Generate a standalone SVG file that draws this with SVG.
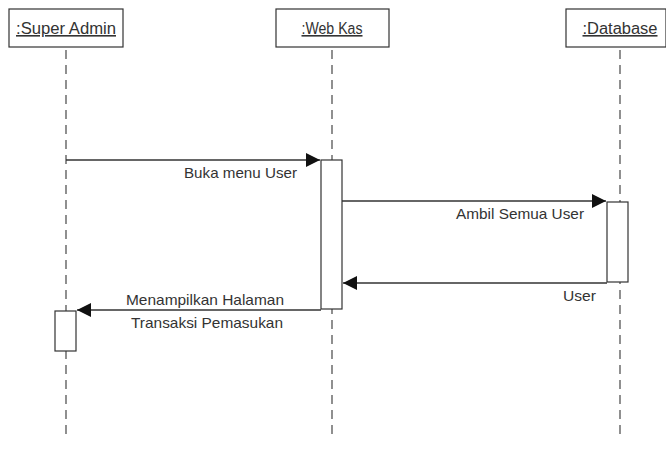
<svg xmlns="http://www.w3.org/2000/svg" width="666" height="462" viewBox="0 0 666 462">
  <style>
    .head { fill: #ffffff; stroke: #333333; stroke-width: 1.2; }
    .head-text { font-family: "Liberation Sans", Arial, sans-serif; font-size: 16px; fill: #333333; text-anchor: middle; text-decoration: underline; }
    .life { stroke: #555555; stroke-width: 1.3; stroke-dasharray: 9 6; fill: none; }
    .act { fill: #ffffff; stroke: #333333; stroke-width: 1.2; }
    .msg { stroke: #333333; stroke-width: 1.3; fill: none; }
    .label { font-family: "Liberation Sans", Arial, sans-serif; font-size: 15px; fill: #333333; }
  </style>
  <defs>
    <marker id="arrow" viewBox="0 0 14 14" refX="14" refY="7" markerWidth="14" markerHeight="14" markerUnits="userSpaceOnUse" orient="auto">
      <path d="M0,0 L14,7 L0,14 Z" fill="#111111"/>
    </marker>
  </defs>
  <rect width="666" height="462" fill="#ffffff"/>

  <!-- lifelines -->
  <g id="lifelines">
    <line class="life" x1="66" y1="50" x2="66" y2="440"/>
    <line class="life" x1="332" y1="50" x2="332" y2="440"/>
    <line class="life" x1="620" y1="50" x2="620" y2="440"/>
  </g>

  <g id="super-admin">
    <rect class="head" x="9" y="9" width="114" height="38"/>
    <text class="head-text" x="66" y="34" textLength="100" lengthAdjust="spacingAndGlyphs">:Super Admin</text>
    <rect class="act" x="55" y="311" width="21" height="40"/>
  </g>

  <g id="web-kas">
    <rect class="head" x="276" y="9" width="113" height="38"/>
    <text class="head-text" x="332" y="34" textLength="61" lengthAdjust="spacingAndGlyphs">:Web Kas</text>
    <rect class="act" x="321" y="160" width="21" height="149"/>
  </g>

  <g id="database">
    <rect class="head" x="566" y="9" width="100" height="38"/>
    <text class="head-text" x="620" y="34" textLength="75" lengthAdjust="spacingAndGlyphs">:Database</text>
    <rect class="act" x="607" y="202" width="21" height="80"/>
  </g>

  <!-- messages -->
  <g id="connectors">
    <line class="msg" x1="66" y1="160" x2="320" y2="160" marker-end="url(#arrow)"/>
    <line class="msg" x1="342" y1="201" x2="606" y2="201" marker-end="url(#arrow)"/>
    <line class="msg" x1="607" y1="283" x2="343" y2="283" marker-end="url(#arrow)"/>
    <line class="msg" x1="321" y1="310" x2="77" y2="310" marker-end="url(#arrow)"/>
  </g>

  <g id="labels">
    <text class="label" x="297" y="178" text-anchor="end" textLength="113" lengthAdjust="spacingAndGlyphs">Buka menu User</text>
    <text class="label" x="584" y="219" text-anchor="end" textLength="128" lengthAdjust="spacingAndGlyphs">Ambil Semua User</text>
    <text class="label" x="596" y="301" text-anchor="end" textLength="33" lengthAdjust="spacingAndGlyphs">User</text>
    <text class="label" x="205" y="305" text-anchor="middle" textLength="158" lengthAdjust="spacingAndGlyphs">Menampilkan Halaman</text>
    <text class="label" x="207" y="328" text-anchor="middle" textLength="152" lengthAdjust="spacingAndGlyphs">Transaksi Pemasukan</text>
  </g>
</svg>
